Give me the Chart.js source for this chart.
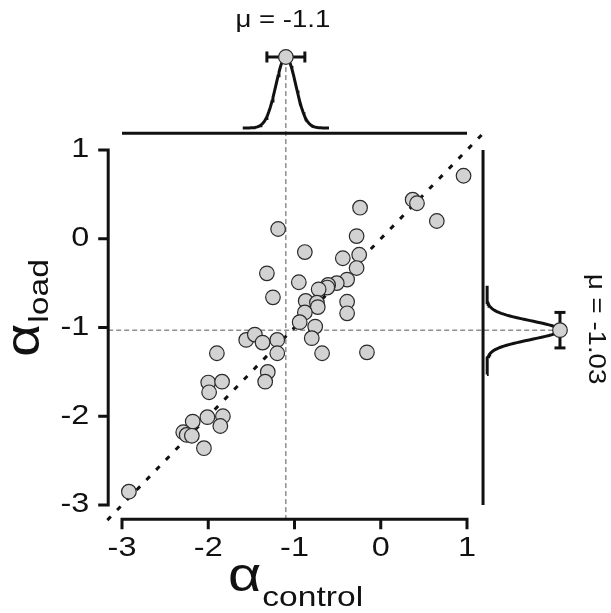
<!DOCTYPE html>
<html lang="en">
<head>
  <meta charset="UTF-8">
  <title>alpha control vs alpha load</title>
  <script src="https://cdn.jsdelivr.net/npm/chart.js"></script>
  <style>
    html, body { margin: 0; padding: 0; background: #fff; }
    canvas { display: block; }
  </style>
</head>
<body>
  <canvas id="scatterChart" width="611" height="613"></canvas>

  <script>
    // per-subject exponents
    const alphaControl = [-0.24, -1.19, -0.28, -0.88, -0.44, -0.25, -0.28, -1.32, -0.95, -0.39,
      -0.51, -0.61, -0.62, -0.72, -1.25, 0.96, 0.37, 0.42, 0.65, -0.87,
      -0.74, -0.73, -0.39, -0.39, -0.88, -0.94, -0.76, -0.80, -0.68, -0.16,
      -1.20, -1.20, -1.31, -1.34, -1.56, -1.46, -1.37, -1.90, -2.00, -1.84,
      -1.99, -2.01, -1.83, -1.86, -2.18, -2.29, -2.25, -2.19, -2.05, -2.92];
    const alphaLoad = [0.35, 0.11, 0.03, -0.15, -0.22, -0.18, -0.33, -0.39, -0.49, -0.46,
      -0.50, -0.52, -0.55, -0.57, -0.66, 0.71, 0.44, 0.40, 0.20, -0.70,
      -0.72, -0.77, -0.71, -0.84, -0.83, -0.94, -0.99, -1.12, -1.29, -1.28,
      -1.14, -1.29, -1.50, -1.61, -1.14, -1.08, -1.17, -1.29, -1.62, -1.61,
      -1.73, -2.01, -2.00, -2.11, -2.06, -2.18, -2.21, -2.22, -2.36, -2.85];
    const tickValues = [-3, -2, -1, 0, 1];

    // group means, posterior sd and 95% interval half width
    const muControl = -1.1, sdControl = 0.115, ciControl = 0.22;
    const muLoad = -1.03, sdLoad = 0.105, ciLoad = 0.2;

    // plot limits (R style 4% extension) and marginal placement
    const lo = -3.16;
    const topLine = 1.19, topBase = 1.248, topHeight = 0.8;
    const rightLine = 1.186, rightBase = 1.232, rightHeight = 0.846;
    const spread = 0.5;

    function gauss(v, mu, sd) {
      return Math.exp(-((v - mu) * (v - mu)) / (2 * sd * sd));
    }

    const topCurve = [];
    const rightCurve = [];
    for (let i = 0; i <= 100; i++) {
      const vx = muControl - spread + i * (2 * spread / 100);
      topCurve.push({ x: vx, y: topBase + topHeight * gauss(vx, muControl, sdControl) });
      const vy = muLoad - spread + i * (2 * spread / 100);
      rightCurve.push({ x: rightBase + rightHeight * gauss(vy, muLoad, sdLoad), y: vy });
    }
    const topPeak = topBase + topHeight;
    const rightPeak = rightBase + rightHeight;

    const pointFill = "#d2d2d2";
    const pointEdge = "#2a2a2a";
    const dashGray = "#555";

    function lineSet(data, opts) {
      return Object.assign({
        type: "scatter",
        data: data,
        showLine: true,
        pointRadius: 0,
        borderColor: "#111",
        borderWidth: 3,
        fill: false,
      }, opts);
    }

    const datasets = [
      {
        label: "subjects",
        data: alphaControl.map((v, i) => ({ x: v, y: alphaLoad[i] })),
        pointRadius: 7.3,
        pointBackgroundColor: pointFill,
        pointBorderColor: pointEdge,
        pointBorderWidth: 1.2,
        order: 1,
      },
      {
        label: "mu points",
        data: [{ x: muControl, y: topPeak }, { x: rightPeak, y: muLoad }],
        pointRadius: 7.3,
        pointBackgroundColor: pointFill,
        pointBorderColor: pointEdge,
        pointBorderWidth: 1.2,
        order: 2,
      },
      lineSet([{ x: muControl - ciControl, y: topPeak }, { x: muControl + ciControl, y: topPeak }], {
        pointStyle: "line", pointRadius: 5.5, pointRotation: 90,
        pointBorderColor: "#111", pointBorderWidth: 3, order: 3,
      }),
      lineSet([{ x: rightPeak, y: muLoad - ciLoad }, { x: rightPeak, y: muLoad + ciLoad }], {
        pointStyle: "line", pointRadius: 5.5, pointRotation: 0,
        pointBorderColor: "#111", pointBorderWidth: 3, order: 4,
      }),
      lineSet(topCurve, { order: 5 }),
      lineSet(rightCurve, { order: 6 }),
      lineSet([{ x: -3, y: topLine }, { x: 1, y: topLine }], { order: 7 }),
      lineSet([{ x: rightLine, y: -3 }, { x: rightLine, y: 1 }], { order: 8 }),
      lineSet([{ x: lo - 0.01, y: lo - 0.01 }, { x: 1.22, y: 1.22 }], {
        borderDash: [5, 9], borderWidth: 3, order: 9,
      }),
      lineSet([{ x: muControl, y: lo - 0.01 }, { x: muControl, y: topPeak }], {
        borderDash: [5, 3], borderWidth: 1, borderColor: dashGray, order: 10,
      }),
      lineSet([{ x: lo, y: muLoad }, { x: rightPeak, y: muLoad }], {
        borderDash: [5, 3], borderWidth: 1, borderColor: dashGray, order: 11,
      }),
    ];

    // the original's Helvetica runs wide, so stretch text a bit
    const stretch = 1.2;
    const fontFamily = "'Liberation Sans', Arial, Helvetica, sans-serif";

    function wideText(ctx, str, px, py, size, align, baseline) {
      ctx.save();
      ctx.translate(px, py);
      ctx.scale(stretch, 1);
      ctx.font = size + "px " + fontFamily;
      ctx.textAlign = align;
      ctx.textBaseline = baseline;
      ctx.fillText(str, 0, 0);
      const w = ctx.measureText(str).width * stretch;
      ctx.restore();
      return w;
    }

    // R-like axes, titles and mu labels
    const rAxes = {
      id: "rAxes",
      afterDraw(chart) {
        const ctx = chart.ctx;
        const x = chart.scales.x, y = chart.scales.y;
        ctx.save();
        ctx.strokeStyle = "#111";
        ctx.fillStyle = "#111";
        ctx.lineWidth = 3;
        ctx.lineCap = "butt";

        // x axis
        const ay = y.getPixelForValue(lo);
        ctx.beginPath();
        ctx.moveTo(x.getPixelForValue(-3) - 1.5, ay);
        ctx.lineTo(x.getPixelForValue(1) + 1.5, ay);
        tickValues.forEach(t => {
          ctx.moveTo(x.getPixelForValue(t), ay);
          ctx.lineTo(x.getPixelForValue(t), ay + 10);
        });
        ctx.stroke();
        tickValues.forEach(t => wideText(ctx, String(t), x.getPixelForValue(t), ay + 29, 27, "center", "middle"));

        // y axis
        const ax = x.getPixelForValue(lo);
        ctx.beginPath();
        ctx.moveTo(ax, y.getPixelForValue(1) - 1.5);
        ctx.lineTo(ax, y.getPixelForValue(-3) + 1.5);
        tickValues.forEach(t => {
          ctx.moveTo(ax, y.getPixelForValue(t));
          ctx.lineTo(ax - 10, y.getPixelForValue(t));
        });
        ctx.stroke();
        tickValues.forEach(t => wideText(ctx, String(t), ax - 19, y.getPixelForValue(t), 27, "right", "middle"));

        // axis titles
        const cx = 228;
        const aw = wideText(ctx, "\u03b1", cx, 591, 48, "left", "alphabetic");
        wideText(ctx, "control", cx + aw + 1, 606, 28, "left", "alphabetic");

        ctx.save();
        ctx.translate(39, 357);
        ctx.rotate(-Math.PI / 2);
        const aw2 = wideText(ctx, "\u03b1", 0, 0, 48, "left", "alphabetic");
        wideText(ctx, "load", aw2 + 1, 9, 28, "left", "alphabetic");
        ctx.restore();

        // mu labels
        wideText(ctx, "\u03bc = " + muControl, x.getPixelForValue(muControl) - 3, 21, 23, "center", "middle");
        ctx.save();
        ctx.translate(595, y.getPixelForValue(muLoad) - 1);
        ctx.rotate(Math.PI / 2);
        wideText(ctx, "\u03bc = " + muLoad, 0, 0, 23, "center", "middle");
        ctx.restore();

        ctx.restore();
      },
    };

    const ctx = document.getElementById("scatterChart").getContext("2d");
    const scatterChart = new Chart(ctx, {
      type: "scatter",
      data: { datasets: datasets },
      options: {
        responsive: false,
        animation: false,
        clip: false,
        layout: {
          padding: { left: 104.75, right: 23.25, top: 34.625, bottom: 90.25 },
        },
        plugins: {
          legend: { display: false },
          tooltip: { enabled: false },
        },
        scales: {
          x: { type: "linear", min: -3.2, max: 2.4, display: false },
          y: { type: "linear", min: -3.2, max: 2.3, display: false },
        },
      },
      plugins: [rAxes],
    });
  </script>
</body>
</html>
